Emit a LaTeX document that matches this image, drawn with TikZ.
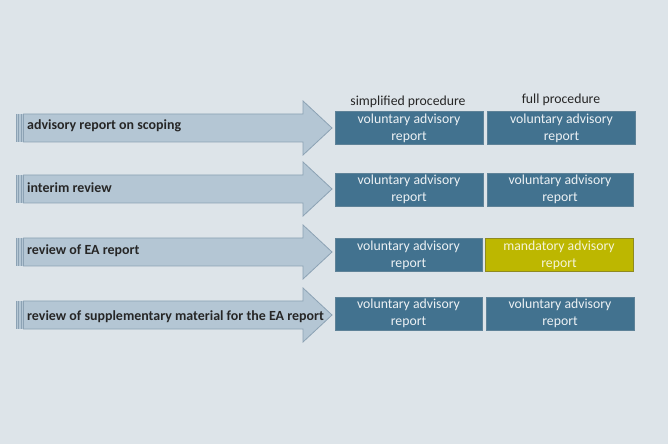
\documentclass[tikz,border=0pt]{standalone}
\usepackage{fontspec}
\setmainfont{Carlito}
\definecolor{bg}{HTML}{DDE4E9}
\definecolor{arrfill}{HTML}{B4C6D4}
\definecolor{arrline}{HTML}{8CA2B4}
\definecolor{boxblue}{HTML}{42728F}
\definecolor{boxline}{HTML}{5E8298}
\definecolor{mand}{HTML}{BDB700}
\definecolor{mandline}{HTML}{8F8A20}
\tikzset{
  arrowshape/.style={fill=arrfill,draw=arrline,line width=0.8bp},
  arrlabel/.style={font=\fontsize{14}{16}\selectfont\bfseries,text=black!85,anchor=west,inner sep=0pt},
  advbox/.style={fill=boxblue,draw=boxline,line width=0.6bp,text=white!90!boxblue,font=\fontsize{13.8}{17}\selectfont,align=center,inner sep=0pt,minimum width=148bp,minimum height=33bp},
  mandbox/.style={advbox,fill=mand,draw=mandline,text=white!85!mand},
  header/.style={font=\fontsize{13.8}{16}\selectfont,text=black!85,inner sep=0pt}
}
\newcommand{\bigarrow}[1]{%
  \fill[arrfill] (16,#1-14) rectangle (25,#1+14);
  \draw[arrline,line width=0.6bp] (16,#1-14) -- (16,#1+14) (18.5,#1-14) -- (18.5,#1+14) (21,#1-14) -- (21,#1+14);
  \draw[arrowshape] (23.5,#1-14) -- (303,#1-14) -- (303,#1-27) -- (332,#1) -- (303,#1+27) -- (303,#1+14) -- (23.5,#1+14) -- cycle;
}
\begin{document}
\begin{tikzpicture}[x=1bp,y=-1bp]
\fill[bg] (0,0) rectangle (668,444);
\useasboundingbox (0,0) rectangle (668,444);

\bigarrow{128}
\bigarrow{189}
\bigarrow{252}
\bigarrow{315}

\node[arrlabel] (l1) at (27,126) {advisory report on scoping};
\node[arrlabel] (l2) at (27,188) {interim review};
\node[arrlabel] (l3) at (27,251) {review of EA report};
\node[arrlabel] (l4) at (27,317) {review of supplementary material for the EA report};

\node[header] (h1) at (408,102) {simplified procedure};
\node[header] (h2) at (561,100) {full procedure};

\node[advbox] (s1) at (409,128) {voluntary advisory\\report};
\node[advbox] (f1) at (561.5,128) {voluntary advisory\\report};
\node[advbox] (s2) at (409,189.5) {voluntary advisory\\report};
\node[advbox,minimum width=146bp] (f2) at (560,189.5) {voluntary advisory\\report};
\node[advbox,minimum width=147bp] (s3) at (408.5,255) {voluntary advisory\\report};
\node[mandbox] (f3) at (559,255) {mandatory advisory\\report};
\node[advbox,minimum width=147bp] (s4) at (408.5,313.5) {voluntary advisory\\report};
\node[advbox] (f4) at (560,313.5) {voluntary advisory\\report};
\end{tikzpicture}
\end{document}
